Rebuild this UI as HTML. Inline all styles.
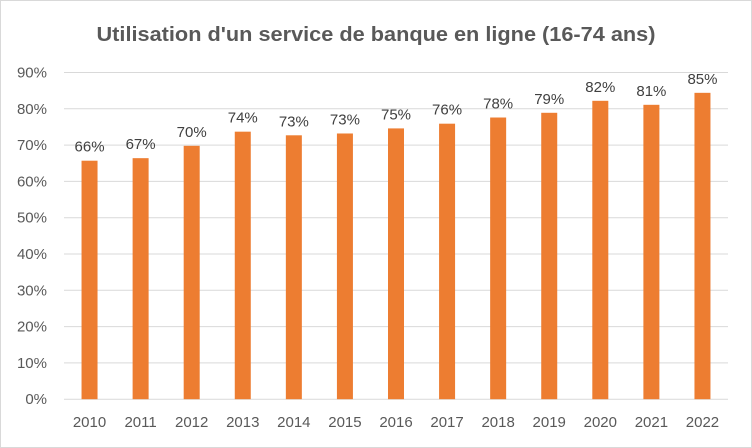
<!DOCTYPE html>
<html><head><meta charset="utf-8"><style>
html,body{margin:0;padding:0;background:#fff}
svg{display:block;font-family:"Liberation Sans",sans-serif}
</style></head><body>
<svg id="chart" width="752" height="448" viewBox="0 0 752 448">
<rect x="0.5" y="0.5" width="751" height="447" fill="#fff" stroke="#d9d9d9"/>
<text x="376" y="41" text-anchor="middle" font-size="20" font-weight="bold" fill="#595959" textLength="559" lengthAdjust="spacingAndGlyphs">Utilisation d'un service de banque en ligne (16-74 ans)</text>
<g id="grid"></g><g id="bars"></g><g id="labels"></g><g id="yticks"></g><g id="xticks"></g>
</svg>
<script>
const categories=["2010","2011","2012","2013","2014","2015","2016","2017","2018","2019","2020","2021","2022"];
const values=[65.7,66.4,69.8,73.7,72.7,73.2,74.6,75.9,77.6,78.9,82.2,81.1,84.4];
const valueLabels=["66%","67%","70%","74%","73%","73%","75%","76%","78%","79%","82%","81%","85%"];
const yTicks=[0,10,20,30,40,50,60,70,80,90];
const NS="http://www.w3.org/2000/svg";
const x0=64,x1=728,yZero=399.2,yTop=72.5,yMax=90;
const band=(x1-x0)/categories.length;
function xc(i){return x0+band*(i+0.5);}
function y(v){return yZero-(v/yMax)*(yZero-yTop);}
function mk(tag,attrs,parent){const e=document.createElementNS(NS,tag);for(const k in attrs)e.setAttribute(k,attrs[k]);document.getElementById(parent).appendChild(e);return e;}
yTicks.forEach(t=>{
  const l=mk('line',{x1:x0,x2:x1,y1:y(t),y2:y(t),stroke:'#d9d9d9','stroke-width':1},'grid');
  
  
  const tx=mk('text',{x:47,y:y(t)+5,'text-anchor':'end','font-size':15,fill:'#595959'},'yticks');
  tx.textContent=t+'%';
  
  
});
categories.forEach((c,i)=>{
  const b=mk('rect',{x:xc(i)-8,y:y(values[i]),width:16,height:yZero-y(values[i]),fill:'#ed7d31'},'bars');
  
  
  const lb=mk('text',{x:xc(i),y:y(values[i])-9,'text-anchor':'middle','font-size':15,fill:'#404040'},'labels');
  lb.textContent=valueLabels[i];
  
  
  const xt=mk('text',{x:xc(i),y:427,'text-anchor':'middle','font-size':15,fill:'#595959'},'xticks');
  xt.textContent=c;
  
  
});
</script>
</body></html>
